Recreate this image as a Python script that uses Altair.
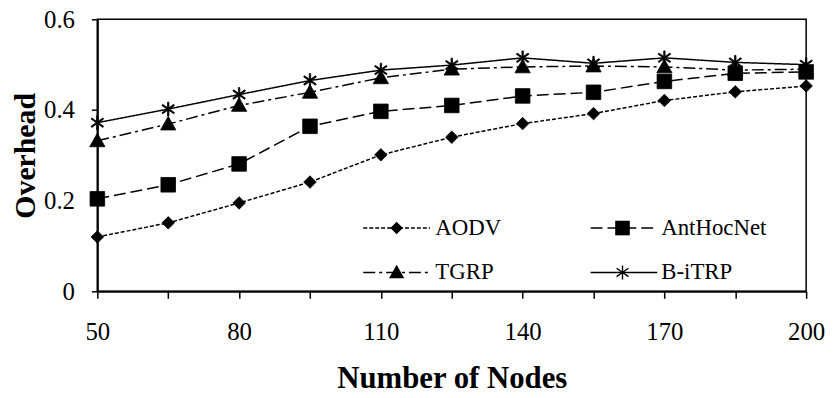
import altair as alt
import pandas as pd

# ---------------- data ----------------
nodes = [50, 65, 80, 95, 110, 125, 140, 155, 170, 185, 200]
series_names = ["AODV", "AntHocNet", "TGRP", "B-iTRP"]
aodv = [0.120, 0.151, 0.195, 0.241, 0.301, 0.340, 0.370, 0.392, 0.421, 0.440, 0.453]
anthocnet = [0.204, 0.235, 0.281, 0.364, 0.397, 0.410, 0.431, 0.439, 0.463, 0.481, 0.484]
tgrp = [0.332, 0.369, 0.410, 0.439, 0.471, 0.490, 0.495, 0.497, 0.495, 0.488, 0.490]
bitrp = [0.372, 0.402, 0.434, 0.465, 0.488, 0.499, 0.515, 0.503, 0.515, 0.505, 0.500]

x_ticks = [50, 65, 80, 95, 110, 125, 140, 155, 170, 185, 200]
x_labels = [50, 80, 110, 140, 170, 200]
y_ticks = [0, 0.2, 0.4, 0.6]

rows = []
for name, vals in zip(series_names, [aodv, anthocnet, tgrp, bitrp]):
    for n, v in zip(nodes, vals):
        rows.append({"nodes": n, "overhead": v, "series": name})
df = pd.DataFrame(rows)

# ---------------- styles ----------------
FONT = "Liberation Serif"
dashes = [[4, 2], [12, 5], [12, 4, 3, 4], [1, 0]]
asterisk = (
    "M-0.1,-1H0.1V1H-0.1Z"
    "M-0.792,-0.682L0.908,0.518L0.792,0.682L-0.908,-0.518Z"
    "M-0.908,0.518L0.792,-0.682L0.908,-0.518L-0.792,0.682Z"
)
marker_paths = [
    "M0,-0.9L0.9,0L0,0.9L-0.9,0Z",
    "M-1.05,-1.05H1.05V1.05H-1.05Z",
    "M0,-1.1L1.1,0.85L-1.1,0.85Z",
    asterisk,
]
legend_line_path = "M-4.8,0H4.8"

x_enc = alt.X(
    "nodes:Q",
    scale=alt.Scale(domain=[50, 200], nice=False, zero=False),
    axis=alt.Axis(
        values=x_ticks,
        labelExpr=f"indexof({x_labels}, datum.value) >= 0 ? datum.label : ''",
        title="Number of Nodes",
        titleFont=FONT, titleFontSize=31, titleFontWeight="bold", titleColor="black",
        titleY=97, titleBaseline="alphabetic",
        labelFont=FONT, labelFontSize=25, labelColor="black",
        labelPadding=22, labelFlush=False, labelOverlap=False,
        tickSize=7, tickWidth=1.5, tickColor="black",
        domainColor="black", domainWidth=2, grid=False,
    ),
)
y_enc = alt.Y(
    "overhead:Q",
    scale=alt.Scale(domain=[0, 0.6], nice=False),
    axis=alt.Axis(
        values=y_ticks, format="~g",
        title="Overhead",
        titleFont=FONT, titleFontSize=30, titleFontWeight="bold", titleColor="black",
        titleX=-63, titleY=137, titleBaseline="alphabetic",
        labelFont=FONT, labelFontSize=25, labelColor="black",
        labelPadding=17, labelFlush=False,
        tickSize=6, tickWidth=1.5, tickColor="black",
        domainColor="black", domainWidth=2, grid=False,
    ),
)

legend_common = dict(
    title=None, orient="none", legendX=290, legendY=198.5, direction="horizontal",
    columns=2, rowPadding=21, padding=0,
    labelFont=FONT, labelFontSize=23, labelColor="black", labelOffset=27.5,
    symbolSize=196, symbolStrokeWidth=1.5, symbolStrokeColor="black",
    symbolFillColor="black", symbolOpacity=1,
)
legend_lines = alt.Legend(symbolType=legend_line_path, labelExpr="' '", columnPadding=152, **legend_common)
legend_marks = alt.Legend(columnPadding=110.5, **legend_common)

base = alt.Chart(df)

lines = base.mark_line(color="black", strokeWidth=1.5).encode(
    x=x_enc, y=y_enc,
    strokeDash=alt.StrokeDash("series:N", sort=series_names, scale=alt.Scale(range=dashes), legend=legend_lines),
    detail="series:N",
)

points = base.mark_point(filled=True, fill="black", stroke="black", strokeWidth=0.8, size=196, opacity=1).encode(
    x=x_enc, y=y_enc,
    shape=alt.Shape("series:N", scale=alt.Scale(domain=series_names, range=marker_paths), legend=legend_marks),
)

chart = alt.layer(lines, points).properties(
    width=714, height=274,
    autosize=alt.AutoSizeParams(type="none"),
    padding={"left": 90, "top": 10, "right": 22, "bottom": 98},
    background="white",
).configure_view(stroke="black", strokeWidth=1.5)

chart.save("out.html", embed_options={"renderer": "svg", "actions": False})
